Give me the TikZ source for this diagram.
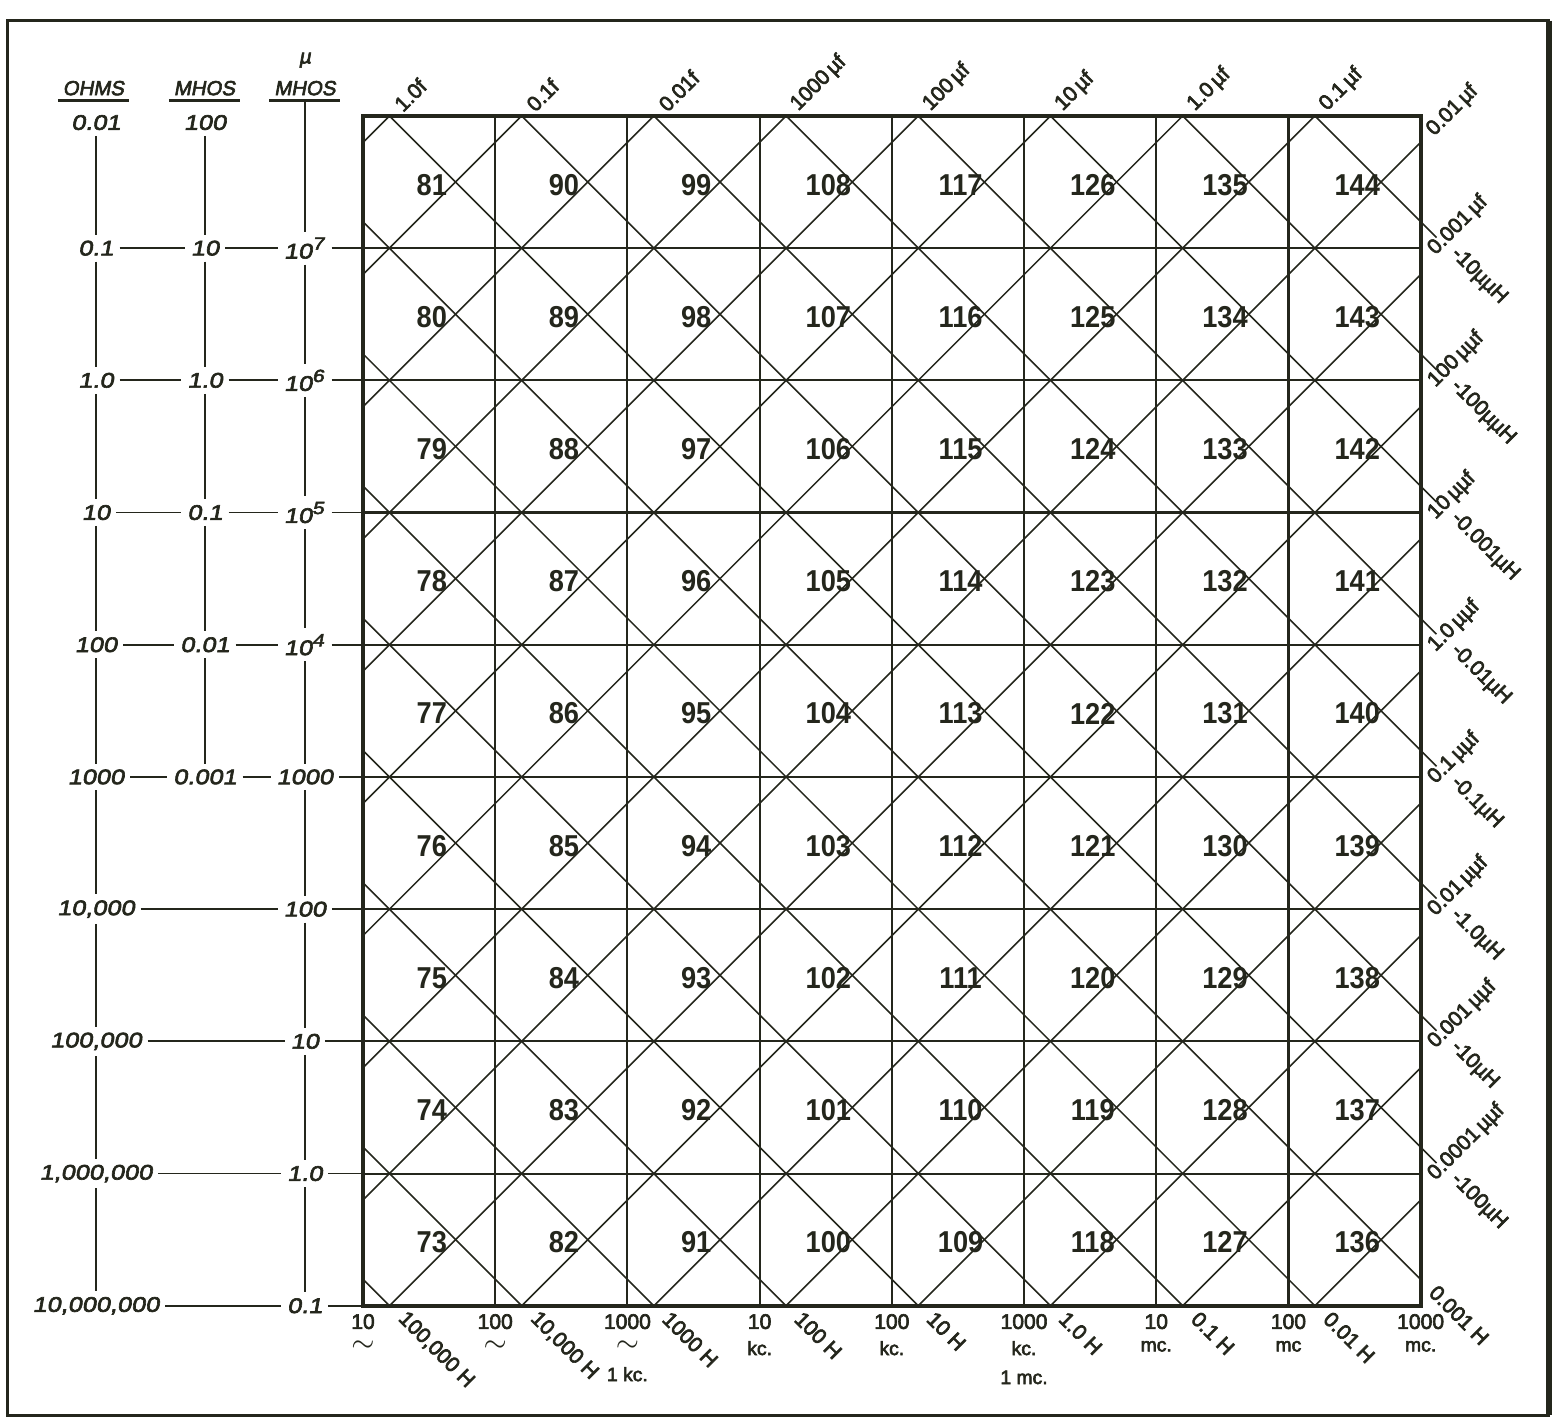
\documentclass[tikz,border=0pt]{standalone}
\usepackage{fontspec}
\setmainfont{Liberation Sans}[FakeBold=3]
\newfontfamily\scalefont[FakeSlant=0.18,FakeStretch=1.2,FakeBold=3]{Liberation Sans}
\newfontfamily\headfont[FakeSlant=0.18,FakeBold=3]{Liberation Sans}
\newfontfamily\numfont[FakeStretch=0.9]{Liberation Sans}
\usetikzlibrary{positioning}
\definecolor{ink}{RGB}{36,38,28}

\begin{document}
\begin{tikzpicture}[
  x=1.322cm, y=-1.322cm,
  frame/.style={draw=ink, line width=0.9pt},
  border/.style={draw=ink, line width=1.1pt},
  gridline/.style={draw=ink, line width=0.6pt},
  diag/.style={draw=ink, line width=0.45pt},
  scaleline/.style={draw=ink, line width=0.5pt},
  headrule/.style={draw=ink, line width=0.9pt},
  cellnum/.style={text=ink, font=\numfont\bfseries\fontsize{8.6}{9}\selectfont, inner sep=0pt},
  scalelabel/.style={text=ink, font=\scalefont\fontsize{6}{7}\selectfont, inner sep=1.5pt},
  headlabel/.style={text=ink, font=\headfont\fontsize{5.8}{7}\selectfont, inner sep=1.2pt},
  caplabel/.style={text=ink, font=\fontsize{6}{7}\selectfont, rotate=45, anchor=west, inner sep=0pt},
  indlabel/.style={text=ink, font=\fontsize{6}{7}\selectfont, rotate=-45, anchor=west, inner sep=0pt},
  freqlabel/.style={text=ink, font=\fontsize{6}{7}\selectfont, inner sep=0.5pt},
  unitlabel/.style={text=ink, font=\fontsize{5.5}{6}\selectfont, inner sep=0.5pt}
]

\useasboundingbox (-2.746,-0.877) rectangle (9.054,9.879);

% outer frame
\draw[frame] (-2.69,-0.72) rectangle (8.97,9.83);
\draw[draw=ink, line width=1.7pt] (8.97,-0.72) -- (8.97,9.83);

% diamond lattice
\begin{scope}
  \clip (0,0) rectangle (8,9);
  \foreach \a in {0,...,16}
    \draw[diag] (\a+1.2,-1) -- (\a-9.8,10);
  \foreach \b in {-9,...,7}
    \draw[diag] (\b-0.8,-1) -- (\b+10.2,10);
\end{scope}
\foreach \j in {1,...,8}
  \draw[diag] (8,\j-0.2) -- (8.12,\j-0.08);

% chart grid
\foreach \c in {1,...,7}
  \draw[gridline] (\c,0) -- (\c,9);
\foreach \r in {1,...,8}
  \draw[gridline] (0,\r) -- (8,\r);
\draw[border] (0,0) rectangle (8,9);

% cell numbers
\foreach \c in {0,...,7}
  \foreach \r in {0,...,8} {
    \pgfmathtruncatemacro\cellno{81+9*\c-\r}
    \node[cellnum] (n\cellno) at (\c+0.52,\r+0.52) {\cellno};
  }

% scale headings
\node[headlabel] (ohmhead) at (-2.04,-0.21) {OHMS};
\node[headlabel] (mhohead) at (-1.2,-0.21) {MHOS};
\node[headlabel] (umhohead) at (-0.44,-0.21) {MHOS};
\node[headlabel, above=1pt of umhohead] (muhead) {µ};
\draw[headrule] (ohmhead.south west) -- (ohmhead.south east);
\draw[headrule] (mhohead.south west) -- (mhohead.south east);
\draw[headrule] (umhohead.south west) -- (umhohead.south east);

% ohms
\node[scalelabel] (o0) at (-2.02,0.05) {0.01};
\node[scalelabel] (o1) at (-2.02,1) {0.1};
\node[scalelabel] (o2) at (-2.02,2) {1.0};
\node[scalelabel] (o3) at (-2.02,3) {10};
\node[scalelabel] (o4) at (-2.02,4) {100};
\node[scalelabel] (o5) at (-2.02,5) {1000};
\node[scalelabel] (o6) at (-2.02,6) {10,000};
\node[scalelabel] (o7) at (-2.02,7) {100,000};
\node[scalelabel] (o8) at (-2.02,8) {1,000,000};
\node[scalelabel] (o9) at (-2.02,9) {10,000,000};

% mhos
\node[scalelabel] (m0) at (-1.195,0.05) {100};
\node[scalelabel] (m1) at (-1.195,1) {10};
\node[scalelabel] (m2) at (-1.195,2) {1.0};
\node[scalelabel] (m3) at (-1.195,3) {0.1};
\node[scalelabel] (m4) at (-1.195,4) {0.01};
\node[scalelabel] (m5) at (-1.195,5) {0.001};

% micromhos
\node[scalelabel] (u1) at (-0.44,1) {10\textsuperscript{7}};
\node[scalelabel] (u2) at (-0.44,2) {10\textsuperscript{6}};
\node[scalelabel] (u3) at (-0.44,3) {10\textsuperscript{5}};
\node[scalelabel] (u4) at (-0.44,4) {10\textsuperscript{4}};
\node[scalelabel] (u5) at (-0.44,5) {1000};
\node[scalelabel] (u6) at (-0.44,6) {100};
\node[scalelabel] (u7) at (-0.44,7) {10};
\node[scalelabel] (u8) at (-0.44,8) {1.0};
\node[scalelabel] (u9) at (-0.44,9) {0.1};

% scale connections
\foreach \r [count=\s from 1] in {0,...,8}
  \draw[scaleline] (o\r) -- (o\s);
\foreach \r [count=\s from 1] in {0,...,4}
  \draw[scaleline] (m\r) -- (m\s);
\draw[scaleline] (umhohead.south) -- (u1);
\foreach \r [count=\s from 2] in {1,...,8}
  \draw[scaleline] (u\r) -- (u\s);
\foreach \r in {1,...,5}
  \draw[scaleline] (o\r) -- (m\r) -- (u\r) -- (0,\r);
\foreach \r in {6,...,9}
  \draw[scaleline] (o\r) -- (u\r) -- (0,\r);

% capacitance labels, top
\foreach \lab [count=\k from 0] in {1.0f,0.1f,0.01f,1000\,µf,100\,µf,10\,µf,1.0\,µf,0.1\,µf}
  \node[caplabel] (ctop\k) at (\k+0.26,-0.06) {\lab};
\node[caplabel] (ctop8) at (8.07,0.13) {0.01\,µf};

% capacitance / inductance pairs, right
\foreach \clab/\llab [count=\j] in {0.001\,µf/-10µµH, 100\,µµf/-100µµH, 10\,µµf/-0.001µH,
    1.0\,µµf/-0.01µH, 0.1\,µµf/-0.1µH, 0.01\,µµf/-1.0µH, 0.001\,µµf/-10µH, 0.0001\,µµf/-100µH} {
  \node[caplabel] (cright\j) at (8.08,\j+0.03) {\clab};
  \node[indlabel] (lright\j) at (8.25,\j+0.02) {\llab};
}

% inductance labels, bottom
\foreach \lab [count=\k from 0] in {{100,000 H},{10,000 H},1000 H,100 H,10 H,1.0 H,0.1 H,0.01 H}
  \node[indlabel] (lbot\k) at (\k+0.29,9.07) {\lab};
\node[indlabel] (lbot8) at (8.09,8.87) {0.001 H};

% frequency labels
\foreach \lab/\unit [count=\k from 0] in {10/{\fontsize{8}{8}\selectfont$\sim$}, 100/{\fontsize{8}{8}\selectfont$\sim$},
    1000/{\fontsize{8}{8}\selectfont$\sim$}, 10/kc., 100/kc., 1000/kc., 10/mc., 100/mc, 1000/mc.} {
  \node[freqlabel] (f\k) at (\k,9.12) {\lab};
  \node[unitlabel, below=2pt of f\k] (fu\k) {\unit};
}
\node[unitlabel, below=3pt of fu2] (kc) {1 kc.};
\node[unitlabel, below=3pt of fu5] (mc) {1 mc.};

\end{tikzpicture}
\end{document}
